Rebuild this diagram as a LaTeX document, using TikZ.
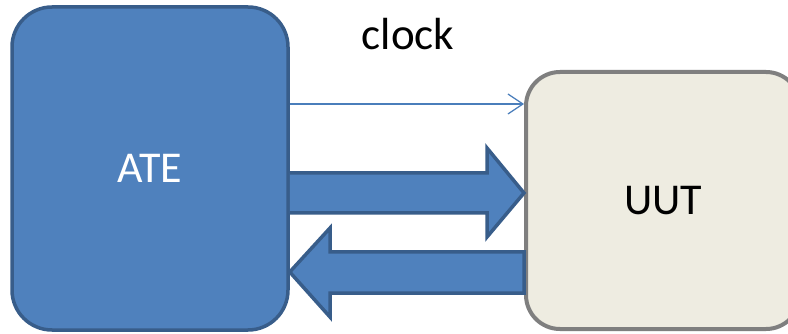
\documentclass[tikz,border=0pt]{standalone}
\usepackage{fontspec}
\setmainfont{Carlito}
\usetikzlibrary{arrows.meta}
\definecolor{ateblue}{HTML}{4F81BD}
\definecolor{ateedge}{HTML}{385D8A}
\definecolor{uutfill}{HTML}{EEECE1}
\definecolor{uutedge}{HTML}{7F7F7F}
\definecolor{clockline}{HTML}{4A7EBB}
\tikzset{
  atebox/.style={draw=ateedge, fill=ateblue, line width=3.5pt, rounded corners=40pt,
    minimum width=276pt, minimum height=323pt, inner sep=0pt, text=white,
    font=\fontsize{44}{52}\selectfont},
  uutbox/.style={draw=uutedge, fill=uutfill, line width=4pt, rounded corners=34pt,
    minimum width=274pt, minimum height=257pt, inner sep=0pt, text=black,
    font=\fontsize{44}{52}\selectfont},
  bigarrow/.style={draw=ateedge, fill=ateblue, line width=3.5pt, line join=miter},
  clockarrow/.style={draw=clockline, line width=1.2pt,
    -{Straight Barb[length=15pt,width=20pt,line width=1.2pt]}},
  lbl/.style={font=\fontsize{45}{54}\selectfont, text=black, inner sep=0pt}
}
\begin{document}
\begin{tikzpicture}[x=1pt,y=-1pt]
  \useasboundingbox (0,0) rectangle (788,334);
  \fill[white] (0,0) rectangle (788,334);

  % the two units
  \node[atebox] (ate) at (150,168.5) {ATE};
  \node[uutbox] (uut) at (663,200.5) {UUT};

  % clock line
  \draw[clockarrow] (ate.east |- 0,104) -- (uut.west |- 0,104);
  \node[lbl] (clk) at (408,34) {clock};

  % data towards the UUT
  \draw[bigarrow] (ate.east |- 0,173) -- (487,173) -- (487,148)
    -- (uut.west |- 0,193) -- (487,237) -- (487,213) -- (ate.east |- 0,213);

  % data back to the ATE
  \draw[bigarrow] (uut.west |- 0,252) -- (330,252) -- (330,228)
    -- (ate.east |- 0,272) -- (330,317) -- (330,293) -- (uut.west |- 0,293) -- cycle;
\end{tikzpicture}
\end{document}
